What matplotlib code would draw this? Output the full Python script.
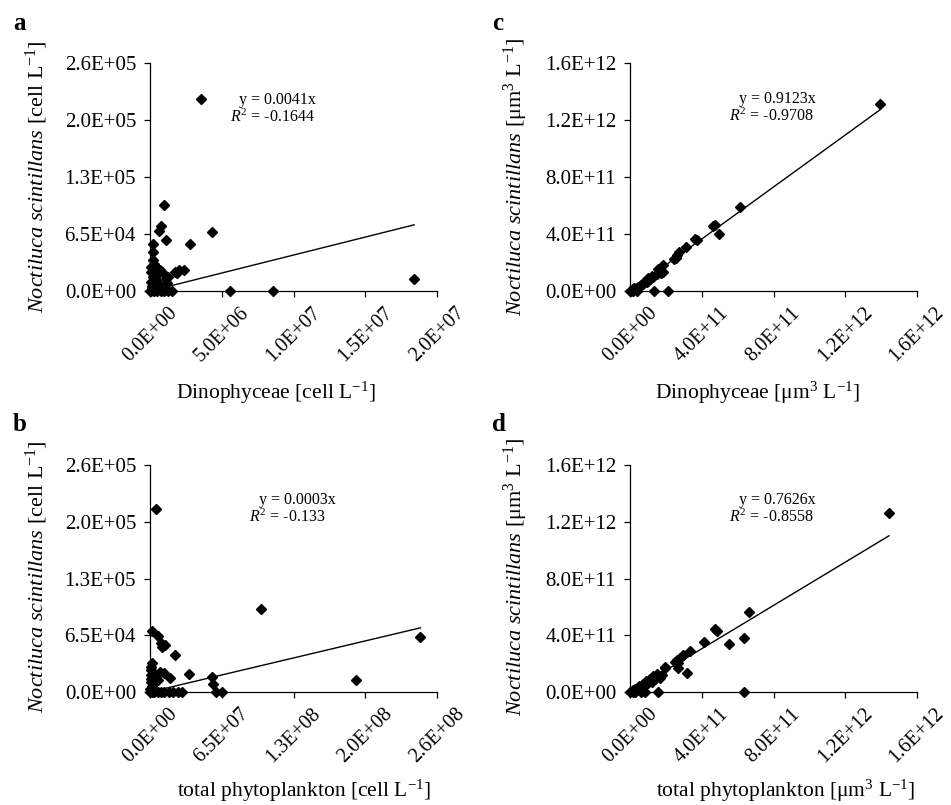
import matplotlib
matplotlib.use("Agg")
import matplotlib.pyplot as plt
import numpy as np

plt.rcParams['font.family'] = ['Liberation Serif', 'DejaVu Serif']
plt.rcParams['mathtext.fontset'] = 'custom'
plt.rcParams['mathtext.rm'] = 'Liberation Serif'
plt.rcParams['mathtext.it'] = 'Liberation Serif:italic'
plt.rcParams['mathtext.bf'] = 'Liberation Serif:bold'

# ---------------- data ----------------
# panel a: Dinophyceae [cell/L] vs Noctiluca [cell/L]
a_x = [3.55e6, 0.98e6, 0.74e6, 0.63e6, 1.11e6, 4.30e6, 2.79e6, 0.23e6, 0.23e6, 0.23e6,
       0.28e6, 0.35e6, 0.50e6, 0.10e6, 0.30e6, 0.55e6, 0.70e6, 0.85e6, 0.20e6, 0.40e6,
       1.74e6, 2.04e6, 2.37e6, 1.86e6, 1.10e6, 1.20e6, 1.25e6, 0.10e6, 0.12e6, 0.15e6,
       0.60e6, 0.45e6, 0.08e6,
       0.0, 0.10e6, 0.30e6, 0.50e6, 0.75e6, 1.00e6, 1.25e6, 1.55e6, 5.57e6, 8.60e6,
       18.4e6]
a_y = [219e3, 98e3, 74e3, 68e3, 58e3, 67e3, 54e3, 54e3, 44e3, 35e3,
       31e3, 27e3, 25e3, 22e3, 19e3, 21e3, 24e3, 22e3, 16e3, 14e3,
       22e3, 24e3, 24e3, 20e3, 14e3, 9e3, 16e3, 10e3, 6e3, 3e3,
       8e3, 18e3, 27e3,
       0, 0, 0, 0, 0, 0, 0, 0, 0, 0,
       14e3]

# panel b: total phytoplankton [cell/L] vs Noctiluca [cell/L]
b_x = [5.4e6, 101e6, 245e6, 187e6, 1.5e6, 7.5e6, 9.7e6, 13.6e6, 10.6e6, 22.6e6,
       35.6e6, 55.9e6, 57.4e6, 60e6, 65e6,
       1.5e6, 1.0e6, 0.5e6, 0.8e6, 1.2e6, 0.6e6, 1.5e6, 0.3e6,
       9e6, 12.7e6, 18e6, 5e6, 7.5e6, 4e6, 3e6,
       0.0, 2e6, 4e6, 7e6, 10e6, 13e6, 17e6, 21e6, 25e6, 29e6]
b_y = [210e3, 95e3, 63e3, 13.7e3, 70e3, 64e3, 56e3, 54e3, 52e3, 42e3,
       21e3, 16.8e3, 9e3, 0, 0,
       33e3, 29e3, 25e3, 20e3, 15e3, 11e3, 7e3, 4e3,
       23e3, 22e3, 15.7e3, 17.5e3, 13.7e3, 20e3, 9e3,
       0, 0, 0, 0, 0, 0, 0, 0, 0, 0]

# panel c: Dinophyceae [um3/L] vs Noctiluca [um3/L]
c_x = [13.94e11, 6.13e11, 4.64e11, 4.72e11, 4.98e11, 3.62e11, 3.72e11, 3.12e11,
       2.75e11, 2.60e11, 2.45e11, 2.55e11, 1.82e11, 1.67e11, 1.86e11, 1.52e11,
       1.75e11, 1.54e11, 1.30e11, 1.12e11, 1.20e11, 0.93e11, 1.00e11, 0.74e11,
       0.80e11, 0.56e11, 0.60e11, 0.37e11, 0.45e11, 0.19e11, 0.25e11, 0.10e11,
       1.36e11, 2.14e11, 0.37e11, 0.0, 0.05e11, 0.15e11]
c_y = [13.1e11, 5.92e11, 4.56e11, 4.60e11, 3.98e11, 3.63e11, 3.55e11, 3.10e11,
       2.76e11, 2.53e11, 2.22e11, 2.30e11, 1.82e11, 1.47e11, 1.36e11, 1.19e11,
       1.25e11, 1.52e11, 1.00e11, 0.82e11, 1.05e11, 0.65e11, 0.90e11, 0.49e11,
       0.60e11, 0.35e11, 0.45e11, 0.19e11, 0.30e11, 0.12e11, 0.18e11, 0.05e11,
       0, 0, 0, 0, 0, 0]

# panel d: total phytoplankton [um3/L] vs Noctiluca [um3/L]
d_x = [14.44e11, 6.63e11, 4.74e11, 4.85e11, 6.37e11, 5.54e11, 4.13e11, 3.35e11,
       2.97e11, 2.79e11, 2.69e11, 2.60e11, 3.16e11, 2.51e11, 2.69e11, 1.95e11,
       1.95e11, 1.77e11, 1.67e11, 1.39e11, 1.21e11, 1.02e11, 0.84e11, 0.59e11,
       0.37e11, 0.19e11, 1.50e11, 1.30e11, 1.10e11, 0.90e11, 0.70e11, 0.50e11,
       0.30e11,
       6.37e11, 1.54e11, 0.84e11, 0.60e11, 0.30e11, 0.0, 0.15e11]
d_y = [12.6e11, 5.64e11, 4.42e11, 4.30e11, 3.78e11, 3.36e11, 3.50e11, 2.91e11,
       2.61e11, 2.37e11, 2.02e11, 2.26e11, 1.32e11, 2.14e11, 1.67e11, 1.67e11,
       1.78e11, 1.20e11, 0.96e11, 0.89e11, 0.73e11, 0.61e11, 0.49e11, 0.37e11,
       0.26e11, 0.14e11, 1.30e11, 1.10e11, 0.90e11, 0.75e11, 0.55e11, 0.40e11,
       0.20e11,
       0, 0, 0, 0, 0, 0, 0]

slopes = [0.0041, 0.0003, 0.9123, 0.7626]
eq_text = ['y = 0.0041x', 'y = 0.0003x', 'y = 0.9123x', 'y = 0.7626x']
r2_text = ['-0.1644', '-0.133', '-0.9708', '-0.8558']

cell_ticks = [0, 6.5e4, 1.3e5, 1.95e5, 2.6e5]
cell_ticklabels = ['0.0E+00', '6.5E+04', '1.3E+05', '2.0E+05', '2.6E+05']
xa_ticks = [0, 5e6, 1e7, 1.5e7, 2e7]
xa_ticklabels = ['0.0E+00', '5.0E+06', '1.0E+07', '1.5E+07', '2.0E+07']
xb_ticks = [0, 6.5e7, 1.3e8, 1.95e8, 2.6e8]
xb_ticklabels = ['0.0E+00', '6.5E+07', '1.3E+08', '2.0E+08', '2.6E+08']
vol_ticks = [0, 4e11, 8e11, 1.2e12, 1.6e12]
vol_ticklabels = ['0.0E+00', '4.0E+11', '8.0E+11', '1.2E+12', '1.6E+12']

ylab_cell = r'$\mathit{Noctiluca\ scintillans}$ [cell L$^{-1}$]'
ylab_vol = r'$\mathit{Noctiluca\ scintillans}$ [μm$^{3}$ L$^{-1}$]'
xlabels = ['Dinophyceae [cell L$^{-1}$]', 'total phytoplankton [cell L$^{-1}$]',
           'Dinophyceae [μm$^{3}$ L$^{-1}$]', 'total phytoplankton [μm$^{3}$ L$^{-1}$]']
letters = ['a', 'b', 'c', 'd']

# ---------------- layout ----------------
W, H = 951, 805
fig = plt.figure(figsize=(W / 100, H / 100), dpi=100)

def fx(px):
    return px / W

def fy(py):
    return 1 - py / H

panels = [
    dict(x=a_x, y=a_y, box=(150, 63, 437, 291), xt=xa_ticks, xtl=xa_ticklabels,
         yt=cell_ticks, ytl=cell_ticklabels, ylab=ylab_cell,
         eq=(0.4425, 0.838), r2=(0.427, 0.763), ylabpos=(37, 177), xlabpos=(276, 399),
         letpos=(13, 30)),
    dict(x=b_x, y=b_y, box=(150, 465, 437, 692), xt=xb_ticks, xtl=xb_ticklabels,
         yt=cell_ticks, ytl=cell_ticklabels, ylab=ylab_cell,
         eq=(0.515, 0.846), r2=(0.477, 0.770), ylabpos=(37, 577), xlabpos=(304, 797),
         letpos=(13, 431)),
    dict(x=c_x, y=c_y, box=(630, 63, 917, 291), xt=vol_ticks, xtl=vol_ticklabels,
         yt=vol_ticks, ytl=vol_ticklabels, ylab=ylab_vol,
         eq=(0.512, 0.841), r2=(0.491, 0.768), ylabpos=(516, 177), xlabpos=(758, 399),
         letpos=(492, 30)),
    dict(x=d_x, y=d_y, box=(630, 465, 917, 692), xt=vol_ticks, xtl=vol_ticklabels,
         yt=vol_ticks, ytl=vol_ticklabels, ylab=ylab_vol,
         eq=(0.513, 0.846), r2=(0.492, 0.770), ylabpos=(516, 577), xlabpos=(786, 797),
         letpos=(492, 431)),
]

for i, p in enumerate(panels):
    l, t, r, b = p['box']
    ax = fig.add_axes([fx(l), fy(b), (r - l) / W, (b - t) / H])
    ax.set_xlim(p['xt'][0], p['xt'][-1])
    ax.set_ylim(p['yt'][0], p['yt'][-1])
    for s in ['top', 'right']:
        ax.spines[s].set_visible(False)
    for s in ['left', 'bottom']:
        ax.spines[s].set_linewidth(0.9)
    ax.tick_params(direction='out', length=4, width=0.9)
    ax.tick_params(axis='y', labelsize=15, pad=6)
    ax.tick_params(axis='x', labelsize=14.5, pad=5)
    ax.set_xticks(p['xt'])
    ax.set_xticklabels(p['xtl'])
    ax.set_yticks(p['yt'])
    ax.set_yticklabels(p['ytl'])
    for lab in ax.get_xticklabels():
        lab.set_rotation(45)
        lab.set_ha('center')
    ax.set_facecolor('none')

    xs = np.array(p['x'])
    ys = np.array(p['y'])
    ax.plot(xs, ys, linestyle='none', marker='D', ms=5, color='black',
            clip_on=False, zorder=3)
    xl = np.array([0, xs.max()])
    ax.plot(xl, slopes[i] * xl, color='black', lw=1.0, clip_on=False, zorder=4)

    ax.text(p['eq'][0], p['eq'][1], eq_text[i], transform=ax.transAxes,
            ha='center', va='center', fontsize=11.5)
    ax.text(p['r2'][0], p['r2'][1], r'$\mathit{R}^{2}$ = ' + r2_text[i],
            transform=ax.transAxes, ha='center', va='center', fontsize=11.5)

    fig.text(fx(p['ylabpos'][0]), fy(p['ylabpos'][1]), p['ylab'], rotation=90,
             ha='center', va='center', fontsize=16)
    fig.text(fx(p['xlabpos'][0]), fy(p['xlabpos'][1]), xlabels[i],
             ha='center', va='baseline', fontsize=15.5)
    fig.text(fx(p['letpos'][0]), fy(p['letpos'][1]), letters[i],
             ha='left', va='baseline', fontsize=18, fontweight='bold')

fig.savefig('out.png', dpi=100, facecolor='white')
